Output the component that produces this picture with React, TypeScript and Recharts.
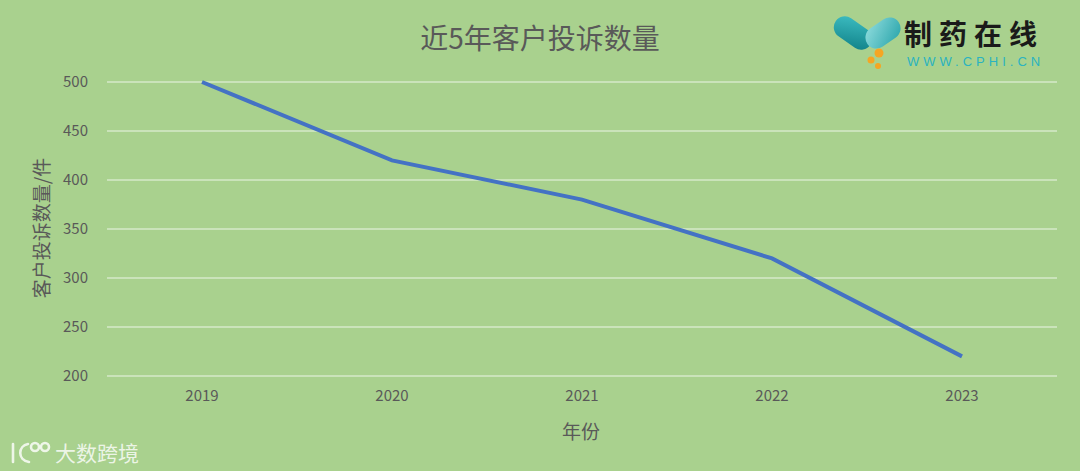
// 近5年客户投诉数量 折线图
import { LineChart, Line, XAxis, YAxis, CartesianGrid } from "recharts";

const years = ["2019", "2020", "2021", "2022", "2023"];
const complaints = [500, 420, 380, 320, 220];
const yTicks = [200, 250, 300, 350, 400, 450, 500];

const data = years.map((year, i) => ({ year, value: complaints[i] }));

const font = '"Noto Sans CJK SC", "Noto Sans", sans-serif';
const gray = "#595959";

export default function App() {
  return (
    <div style={{ position: "absolute", left: 0, top: 0, width: 1080, height: 471, background: "#a9d18e", fontFamily: font, overflow: "hidden" }}>
      <style>{"body{margin:0}"}</style>
      <LineChart width={1080} height={471} data={data} margin={{ top: 82, right: 23, bottom: 65, left: 0 }}>
        <CartesianGrid vertical={false} stroke="#d6e9c9" strokeWidth={1.5} />
        <XAxis
          dataKey="year"
          height={30}
          axisLine={false}
          tickLine={false}
          tickMargin={8}
          padding={{ left: 95, right: 95 }}
          tick={{ fill: gray, fontSize: 15, fontFamily: font }}
        />
        <YAxis
          domain={[200, 500]}
          ticks={yTicks}
          width={107}
          axisLine={false}
          tickLine={false}
          tickMargin={13}
          tick={{ fill: gray, fontSize: 15, fontFamily: font }}
        />
        <Line type="linear" dataKey="value" stroke="#4472c4" strokeWidth={4} dot={false} isAnimationActive={false} />
      </LineChart>

      <div style={{ position: "absolute", left: 0, width: 1080, top: 17, textAlign: "center", fontSize: 28, color: gray, lineHeight: "40px" }}>
        近5年客户投诉数量
      </div>

      <div style={{ position: "absolute", left: 40, top: 228, transform: "translate(-50%, -50%) rotate(-90deg)", fontSize: 19, color: gray, whiteSpace: "nowrap" }}>
        客户投诉数量/件
      </div>

      <div style={{ position: "absolute", left: 0, width: 1162, top: 417, textAlign: "center", fontSize: 19, color: gray }}>
        年份
      </div>

      {/* logo */}
      <svg style={{ position: "absolute", left: 830, top: 14 }} width={75} height={58}>
        <defs>
          <linearGradient id="capL" x1="0" y1="0" x2="1" y2="1">
            <stop offset="0" stopColor="#3fbfc4" />
            <stop offset="1" stopColor="#0e7f86" />
          </linearGradient>
          <linearGradient id="capR" x1="0" y1="0" x2="1" y2="1">
            <stop offset="0" stopColor="#8fdcdd" />
            <stop offset="1" stopColor="#2aa5ab" />
          </linearGradient>
        </defs>
        <rect x={2} y={8} width={42} height={22} rx={11} fill="url(#capL)" transform="rotate(35 23 19)" />
        <rect x={34} y={8} width={38} height={22} rx={11} fill="url(#capR)" transform="rotate(-35 53 19)" />
        <circle cx={49} cy={39} r={4.5} fill="#f5a623" />
        <circle cx={41} cy={46} r={3.5} fill="#f5a623" />
        <circle cx={48} cy={52} r={3} fill="#f5a623" />
      </svg>
      <div style={{ position: "absolute", left: 904, top: 18, fontSize: 28, fontWeight: 700, color: "#1a1a1a", letterSpacing: 7, lineHeight: "30px", whiteSpace: "nowrap" }}>
        制药在线
      </div>
      <div style={{ position: "absolute", left: 907, top: 54, fontSize: 13, fontFamily: '"Liberation Sans", sans-serif', color: "#2bb3c0", letterSpacing: 4, lineHeight: "15px", whiteSpace: "nowrap" }}>
        WWW.CPHI.CN
      </div>

      {/* watermark */}
      <svg style={{ position: "absolute", left: 8, top: 438 }} width={46} height={28}>
        <g fill="none" stroke="rgba(255,255,255,0.8)" strokeWidth={2.6} strokeLinecap="round">
          <path d="M5 6 L5 24" />
          <path d="M20 6 C10 8 9 22 21 24" />
          <circle cx={27} cy={9} r={4} />
          <circle cx={37} cy={9} r={4} />
        </g>
      </svg>
      <div style={{ position: "absolute", left: 55, top: 438, fontSize: 21, color: "rgba(255,255,255,0.8)", lineHeight: "28px", whiteSpace: "nowrap" }}>
        大数跨境
      </div>
    </div>
  );
}
